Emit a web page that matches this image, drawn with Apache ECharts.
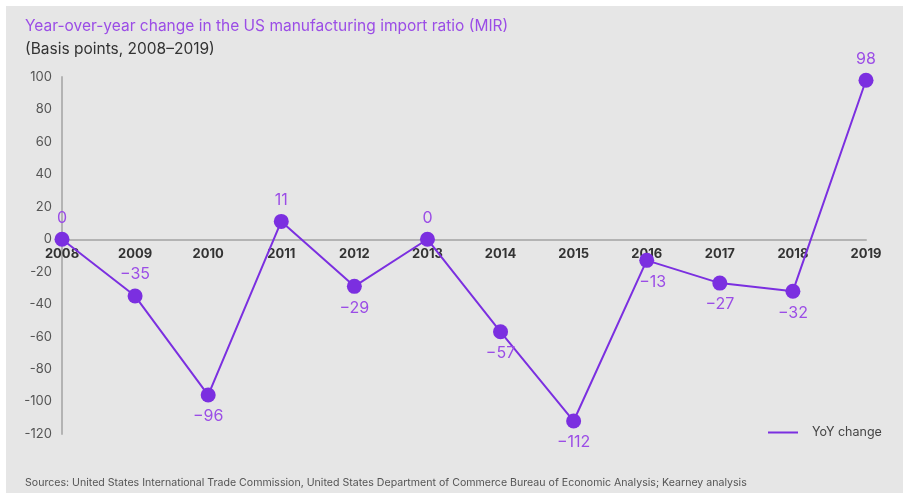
<!DOCTYPE html>
<html>
<head>
<meta charset="utf-8">
<script src="https://cdn.jsdelivr.net/npm/echarts@6/dist/echarts.min.js"></script>
<style>
    html, body { margin: 0; padding: 0; background: #fff; }
    #chart {
        width: 903px; height: 493px;
        background: linear-gradient(#fff, #fff) top left / 100% 6px no-repeat,
                    linear-gradient(#fff, #fff) top left / 6px 100% no-repeat,
                    #e6e6e6;
    }
</style>
</head>
<body>
<div id="chart"></div>
<script>
var years = ['2008', '2009', '2010', '2011', '2012', '2013', '2014', '2015', '2016', '2017', '2018', '2019'];
var yoyChange = [0, -35, -96, 11, -29, 0, -57, -112, -13, -27, -32, 98];
// where each value label sits
var labelPos = ['top', 'top', 'bottom', 'top', 'bottom', 'top', 'bottom', 'bottom', 'bottom', 'bottom', 'bottom', 'top'];

var font = 'Inter, "Noto Sans", sans-serif';
var myChart = echarts.init(document.getElementById('chart'));

var points = yoyChange.map(function (v, i) {
    var p = { value: v, label: { position: labelPos[i] } };
    if (years[i] === '2016') p.label.offset = [6, 0];
    return p;
});

var yMin = -120, yMax = 100;
var gridTop = 77, gridBottom = 59;
var plotH = 493 - gridTop - gridBottom;
// move the category axis up so it sits on the zero line
var zeroOffset = -plotH * (0 - yMin) / (yMax - yMin);

var option = {
    textStyle: { fontFamily: font },
    title: [{
        text: 'Year-over-year change in the US manufacturing import ratio (MIR)',
        left: 20, top: 13,
        textStyle: { color: '#9b4de6', fontSize: 15.5, fontWeight: 'normal', fontFamily: font }
    }, {
        text: '(Basis points, 2008\u20132019)',
        left: 20, top: 36,
        textStyle: { color: '#333', fontSize: 15.5, fontWeight: 'normal', fontFamily: font }
    }, {
        text: 'Sources: United States International Trade Commission, United States Department of Commerce Bureau of Economic Analysis; Kearney analysis',
        left: 20, top: 472,
        textStyle: { color: '#555', fontSize: 10.6, fontWeight: 'normal', fontFamily: font }
    }],
    legend: {
        left: 763, top: 421,
        itemWidth: 30, itemHeight: 2,
        data: [{ name: 'YoY change', icon: 'rect' }],
        textStyle: { color: '#444', fontSize: 12.5, padding: [0, 0, 0, 9] }
    },
    grid: { left: 62, right: 37, top: gridTop, bottom: gridBottom },
    xAxis: {
        type: 'category',
        data: years,
        boundaryGap: false,
        offset: zeroOffset,
        axisLine: { onZero: false, lineStyle: { color: '#b3b3b3', width: 2 } },
        axisTick: { show: false },
        axisLabel: { color: '#333', fontWeight: 'bold', fontSize: 13, margin: 8 }
    },
    yAxis: {
        type: 'value',
        min: yMin, max: yMax, interval: 20,
        axisLine: { show: true, lineStyle: { color: '#b3b3b3', width: 2 } },
        axisTick: { show: false },
        splitLine: { show: false },
        axisLabel: { color: '#555', fontSize: 13, margin: 10 }
    },
    series: [{
        name: 'YoY change',
        type: 'line',
        data: points,
        symbol: 'circle',
        symbolSize: 15,
        lineStyle: { color: '#7b2fe0', width: 2 },
        itemStyle: { color: '#7b2fe0' },
        label: {
            show: true,
            color: '#9b4de6',
            fontSize: 16,
            distance: 6,
            formatter: function (p) {
                return p.value < 0 ? '\u2212' + Math.abs(p.value) : String(p.value);
            }
        }
    }]
};

myChart.setOption(option);
</script>
</body>
</html>
